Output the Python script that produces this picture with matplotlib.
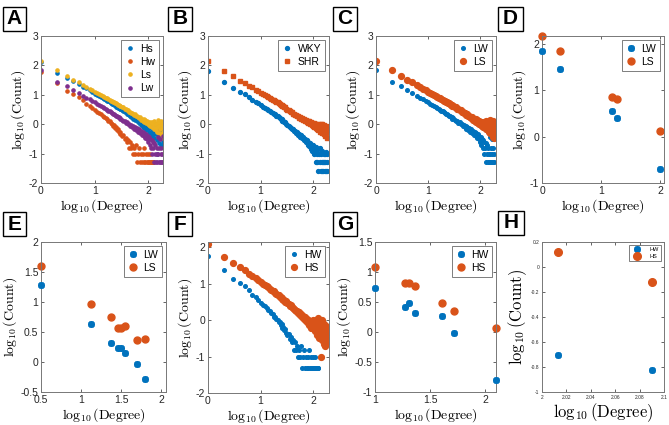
import numpy as np
import matplotlib
matplotlib.use('Agg')
import matplotlib.pyplot as plt
from matplotlib.patches import Rectangle
from matplotlib.legend_handler import HandlerTuple
from matplotlib.ticker import FuncFormatter

plt.rcParams['font.family'] = ['Liberation Sans', 'DejaVu Sans']
plt.rcParams['mathtext.fontset'] = 'cm'
plt.rcParams['axes.unicode_minus'] = False

BLUE = '#0072BD'; ORANGE = '#D95319'; YELLOW = '#EDB120'; PURPLE = '#7E2F8E'

# ---------------- data ----------------
degree = list(range(1, 31)) + list(range(32, 61, 2)) + list(range(63, 187, 3))

ls_y = [2.15,1.85,1.63,1.50,1.42,1.33,1.27,1.21,1.15,1.10, 1.06,1.03,0.99,0.97,0.93,0.90,0.88,0.85,0.83,0.80,
        0.79,0.76,0.74,0.72,0.71,0.68,0.66,0.66,0.63,0.62,
        0.58,0.57,0.53,0.52,0.47,0.47,0.42,0.43,0.38,0.37,0.36,0.31,0.33,0.28,0.27,
        0.26,0.20,0.24,0.15,0.19,0.12,0.16,0.08,0.13,0.05, 0.11,0.02,0.08,-0.02,0.09,-0.05,0.04,-0.10,0.06,-0.08,
        0.02,-0.15,0.10,-0.12,0.00,-0.20,0.05,-0.10,-0.25,0.15, -0.05,-0.30,0.08,-0.18,-0.02,-0.35,0.12,-0.12,-0.42,0.02,
        -0.25,-0.48]
lw_y = [1.84,1.45,1.29,1.15,1.06,0.97,0.90,0.85,0.78,0.74, 0.70,0.65,0.63,0.58,0.56,0.51,0.50,0.45,0.44,0.40,
        0.38,0.36,0.33,0.32,0.28,0.27,0.23,0.24,0.19,0.20,
        0.15,0.12,0.10,0.05,0.06,0.00,0.02,-0.05,-0.02,-0.10,-0.06,-0.15,-0.10,-0.20,-0.13,
        -0.25,-0.18,-0.30,-0.22,-0.38,-0.28,-0.40,-0.30,-0.46,-0.35, -0.52,-0.40,-0.60,-0.45,-0.70,-0.52,-0.82,-0.55,-1.00,-0.60,
        -0.82,-1.30,-0.65,-1.00,-0.70,-1.30,-0.82,-1.00,-1.30,-0.45, -1.00,-1.30,-0.82,-1.30,-0.50,-1.00,-1.30,-0.82,-1.30,-1.00,
        -1.30,-0.40]
hs_y = [2.10,1.74,1.58,1.46,1.37,1.28,1.22,1.16,1.10,1.04, 1.00,0.97,0.93,0.90,0.86,0.84,0.80,0.79,0.74,0.73,
        0.70,0.68,0.64,0.64,0.60,0.59,0.56,0.55,0.51,0.52,
        0.47,0.45,0.40,0.41,0.35,0.34,0.30,0.29,0.24,0.26,0.19,0.22,0.14,0.17,0.10,
        0.12,0.03,0.08,-0.02,0.04,-0.08,0.00,-0.12,-0.03,-0.20, -0.05,-0.15,0.02,-0.25,-0.08,-0.30,0.00,-0.22,-0.40,-0.10,
        -0.30,0.05,-0.48,-0.15,-0.35,-0.05,-1.00,-0.25,-0.55,0.00, -0.40,-0.20,-0.65,-0.10,-0.45,-0.30,-0.70,-0.15,-0.50,-0.35,
        -0.60,-0.25]
hw_y = [1.76,1.39,1.14,1.02,0.93,0.82,0.70,0.63,0.55,0.47, 0.43,0.38,0.33,0.28,0.25,0.20,0.17,0.10,0.10,0.03,
        0.00,-0.05,-0.04,-0.12,-0.10,-0.20,-0.18,-0.28,-0.25,-0.35,
        -0.40,-0.38,-0.52,-0.46,-0.60,-0.55,-0.82,-0.60,-0.82,-0.70,-1.00,-0.82,-1.00,-0.70,-1.30,
        -1.00,-0.82,-1.30,-1.00,-1.30,-1.00,-1.30,-0.82,-1.30,-1.00, -1.30,-1.30,-1.00,-1.30,-1.30,-1.00,-1.30,-1.30,-1.30,-1.30,
        -1.30,-1.30]
wky_y = [1.80,1.45,1.23,1.09,1.02,0.91,0.83,0.77,0.71,0.64, 0.60,0.55,0.52,0.47,0.45,0.41,0.39,0.34,0.33,0.29,
         0.27,0.23,0.22,0.17,0.17,0.12,0.11,0.06,0.07,0.02,
         -0.02,-0.05,-0.10,-0.12,-0.18,-0.17,-0.24,-0.22,-0.30,-0.28,-0.36,-0.33,-0.42,-0.38,-0.48,
         -0.45,-0.55,-0.50,-0.62,-0.55,-0.70,-0.60,-0.75,-0.65,-0.85, -0.70,-0.90,-0.72,-1.00,-0.80,-0.90,-1.30,-0.78,-1.00,-1.30,
         -0.85,-1.60,-1.00,-1.30,-0.80,-1.60,-1.00,-1.30,-1.60,-0.90, -1.30,-1.60,-1.00,-1.30,-1.60,-1.00,-1.30,-1.60,-0.95,-1.30,
         -1.60,-1.00]
shr_y = [2.15,1.82,1.63,1.48,1.40,1.31,1.25,1.18,1.13,1.07, 1.03,0.99,0.96,0.92,0.90,0.86,0.84,0.81,0.79,0.76,
         0.74,0.71,0.70,0.66,0.65,0.62,0.61,0.57,0.57,0.53,
         0.50,0.47,0.45,0.41,0.40,0.36,0.36,0.31,0.32,0.27,0.28,0.22,0.24,0.18,0.20,
         0.14,0.17,0.10,0.14,0.06,0.12,0.03,0.10,0.00,0.08, -0.03,0.05,-0.06,0.03,-0.10,0.02,-0.12,0.00,-0.15,-0.02,
         -0.20,0.00,-0.15,-0.05,-0.25,0.02,-0.18,-0.08,-0.30,0.00, -0.20,-0.10,-0.35,-0.02,-0.25,-0.12,-0.40,-0.05,-0.30,-0.15,
         -0.48,-0.20]

# panel D (log10 degree, log10 count)
d_x = [0.0, 0.301, 1.19, 1.27, 2.0]
d_lw = [1.84, 1.46, 0.55, 0.41, -0.70]
d_ls = [2.16, 1.84, 0.85, 0.81, 0.12]
# panel E
e_x = [0.5, 1.12, 1.37, 1.46, 1.50, 1.55, 1.70, 1.80]
e_lw = [1.28, 0.63, 0.32, 0.24, 0.24, 0.15, -0.03, -0.29]
e_ls = [1.60, 0.96, 0.75, 0.57, 0.57, 0.60, 0.36, 0.38]
# panel G
g_x = [1.0, 1.27, 1.31, 1.36, 1.61, 1.72, 2.1]
g_hw = [0.73, 0.42, 0.49, 0.31, 0.27, -0.02, -0.80]
g_hs = [1.08, 0.81, 0.82, 0.76, 0.48, 0.35, 0.06]
# panel H
h_x = [2.013, 2.09]
h_hw = [-0.70, -0.82]
h_hs = [0.12, -0.12]

# ---------------- figure ----------------
W, H = 669, 425
fig = plt.figure(figsize=(W / 100, H / 100), dpi=100)

def rect(l, t, r, b):
    return [l / W, 1 - b / H, (r - l) / W, (b - t) / H]

fmt = FuncFormatter(lambda v, p: '%g' % round(v, 6))

def setup(ax, xlim, ylim, xt, yt, fs=7.5, lfs=10):
    ax.set_xlim(*xlim); ax.set_ylim(*ylim)
    ax.set_xticks(xt); ax.set_yticks(yt)
    ax.xaxis.set_major_formatter(fmt); ax.yaxis.set_major_formatter(fmt)
    ax.tick_params(direction='in', length=2, width=0.5, top=True, right=True,
                   labelsize=fs, colors='#262626', pad=2)
    for s in ax.spines.values():
        s.set_color('#777777'); s.set_linewidth(0.7)
    ax.set_xlabel(r'$\log_{10}(\mathrm{Degree})$', fontsize=lfs, labelpad=1)
    ax.set_ylabel(r'$\log_{10}(\mathrm{Count})$', fontsize=lfs, labelpad=1)

def star(ax, x, y, c, ms=5.0):
    a, = ax.plot(x, y, ls='none', marker=(8, 2, 0), ms=ms, mew=1.3, color=c, clip_on=False, zorder=3)
    b, = ax.plot(x, y, ls='none', marker='o', ms=ms * 0.62, color=c, mec=c, clip_on=False, zorder=3)
    return (a, b)

def legend(ax, handles, labels, fs=7.5, **kw):
    opts = dict(loc='upper right', fontsize=fs, frameon=True, fancybox=False,
                handlelength=1.0, handletextpad=0.5, borderpad=0.35, labelspacing=0.3,
                borderaxespad=0.4, handler_map={tuple: HandlerTuple(ndivide=1)})
    opts.update(kw)
    lg = ax.legend(handles, labels, **opts)
    lg.get_frame().set_edgecolor('#444444'); lg.get_frame().set_linewidth(0.6)
    return lg

x = np.log10(degree)
xw = x[:len(hw_y)]

# A
ax = fig.add_axes(rect(41, 36, 163, 183))
hA = []
for yy, xx, c in [(hs_y, x, BLUE), (hw_y, xw, ORANGE), (ls_y, x, YELLOW), (lw_y, x, PURPLE)]:
    h, = ax.plot(xx, yy, ls='none', marker='o', ms=2.3, color=c, mec=c)
    hA.append(h)
setup(ax, (0, 2.27), (-2, 3), [0, 1, 2], range(-2, 4))
legend(ax, hA, ['Hs', 'Hw', 'Ls', 'Lw'])

# B
ax = fig.add_axes(rect(208, 36, 329, 183))
h1, = ax.plot(x, wky_y, ls='none', marker='o', ms=2.8, color=BLUE)
h2, = ax.plot(x, shr_y, ls='none', marker='s', ms=2.3, color=ORANGE)
setup(ax, (0, 2.3), (-2, 3), [0, 1, 2], range(-2, 4))
legend(ax, [h1, h2], ['WKY', 'SHR'])

# C
ax = fig.add_axes(rect(376, 36, 496, 183))
h1, = ax.plot(x, lw_y, ls='none', marker='o', ms=2.6, color=BLUE)
h2, = ax.plot(x, ls_y, ls='none', marker='o', ms=4.2, color=ORANGE)
setup(ax, (0, 2.3), (-2, 3), [0, 1, 2], range(-2, 4))
legend(ax, [h1, h2], ['LW', 'LS'])

# D
ax = fig.add_axes(rect(542, 36, 664, 183))
h1 = star(ax, d_x, d_lw, BLUE)
h2, = ax.plot(d_x, d_ls, ls='none', marker='o', ms=5.0, color=ORANGE, clip_on=False)
setup(ax, (0, 2.06), (-1, 2.17), [0, 1, 2], range(-1, 3))
legend(ax, [h1, h2], ['LW', 'LS'])

# E
ax = fig.add_axes(rect(41, 242, 166, 392))
h1 = star(ax, e_x, e_lw, BLUE)
h2, = ax.plot(e_x, e_ls, ls='none', marker='o', ms=5.0, color=ORANGE, clip_on=False)
setup(ax, (0.5, 2.06), (-0.5, 2), [0.5, 1, 1.5, 2], [-0.5, 0, 0.5, 1, 1.5, 2])
legend(ax, [h1, h2], ['LW', 'LS'])

# F
ax = fig.add_axes(rect(208, 242, 329, 393))
h1, = ax.plot(xw, hw_y, ls='none', marker='o', ms=2.6, color=BLUE)
h2, = ax.plot(x, hs_y, ls='none', marker='o', ms=4.2, color=ORANGE)
setup(ax, (0, 2.3), (-2, 2.15), [0, 1, 2], range(-2, 3))
legend(ax, [h1, h2], ['HW', 'HS'])

# G
ax = fig.add_axes(rect(375, 242, 496, 392))
h1 = star(ax, g_x, g_hw, BLUE)
h2, = ax.plot(g_x, g_hs, ls='none', marker='o', ms=5.0, color=ORANGE, clip_on=False)
setup(ax, (1, 2.1), (-1, 1.5), [1, 1.5, 2], [-1, -0.5, 0, 0.5, 1, 1.5])
legend(ax, [h1, h2], ['HW', 'HS'])

# H
ax = fig.add_axes(rect(542, 242, 664, 392))
h1 = star(ax, h_x, h_hw, BLUE)
h2, = ax.plot(h_x, h_hs, ls='none', marker='o', ms=5.5, color=ORANGE, clip_on=False)
setup(ax, (2, 2.1), (-1, 0.2), [2, 2.02, 2.04, 2.06, 2.08, 2.1],
      [-1, -0.8, -0.6, -0.4, -0.2, 0, 0.2], fs=3.5, lfs=12)
legend(ax, [h1, h2], ['HW', 'HS'], fs=4, handlelength=2.2, handletextpad=1.2,
       labelspacing=0.4, borderpad=0.3, borderaxespad=0.6)

# panel letters
for lab, (l, t, w, hgt) in zip('ABCDEFGH', [(3, 7, 23, 24), (168, 7, 24, 24), (333, 7, 24, 24), (498, 7, 25, 24),
                                           (3, 212, 23, 24), (168, 212, 24, 24), (333, 212, 24, 24), (498, 211, 26, 24)]):
    fig.add_artist(Rectangle((l / W, 1 - (t + hgt) / H), w / W, hgt / H, transform=fig.transFigure,
                             fill=True, facecolor='white', edgecolor='black', lw=1.0))
    fig.text((l + w / 2) / W, 1 - (t + hgt / 2) / H, lab, ha='center', va='center',
             fontsize=15, fontweight='bold')

fig.savefig('out.png', dpi=100)
